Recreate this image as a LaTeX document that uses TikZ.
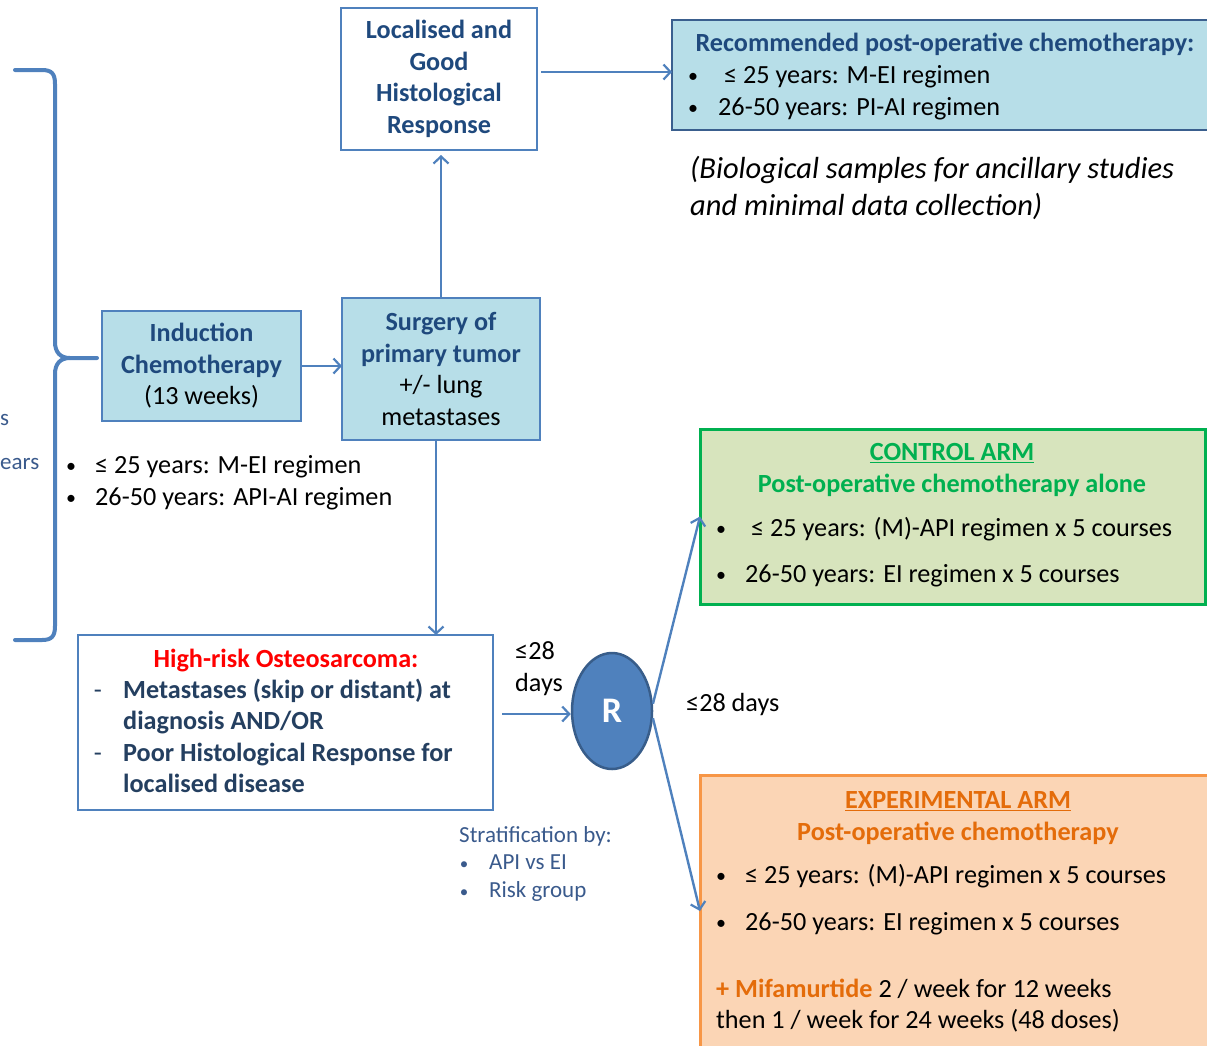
\documentclass[tikz,border=0pt]{standalone}
\usepackage{fontspec}
\setmainfont{Carlito}
\usetikzlibrary{arrows.meta,shapes.geometric,calc}
\definecolor{bline}{HTML}{4F81BD}
\definecolor{rdark}{HTML}{385D8A}
\definecolor{rbord}{HTML}{3A5F8E}
\definecolor{dblue}{HTML}{1F497D}
\definecolor{hblue}{HTML}{243F60}
\definecolor{sblue}{HTML}{3A5A8C}
\definecolor{lblue}{HTML}{B7DEE8}
\definecolor{gfill}{HTML}{D7E4BD}
\definecolor{gline}{HTML}{00B050}
\definecolor{ofill}{HTML}{FBD5B5}
\definecolor{oline}{HTML}{F79646}
\definecolor{otext}{HTML}{E46C0A}
\newcommand\fsz{\fontsize{26.2}{31.5}\selectfont}
\newcommand\fsb{\fontsize{20}{31.5}\selectfont}
\newcommand\fsm{\fontsize{23}{28}\selectfont}
\newcommand\fsl{\fontsize{30.5}{37}\selectfont}
\begin{document}
\begin{tikzpicture}[x=1pt,y=-1pt,
  box/.style={draw=bline, line width=1.8pt, rectangle, inner sep=0pt, outer sep=0pt, anchor=north west},
  arr/.style={draw=bline, line width=2.4pt, -{Straight Barb[length=7pt,width=15pt,line width=2.2pt]}},
  txt/.style={font=\fsz, inner sep=0pt, anchor=base west},
  ctxt/.style={font=\fsz, inner sep=0pt, anchor=base},
  bul/.style={font=\fsb, inner sep=0pt, anchor=base}]
\useasboundingbox (0,0) rectangle (1207,1045);
\clip (0,0) rectangle (1207,1045);

% brace
\draw[bline, line width=4pt, line cap=round, line join=round]
  (15,70) -- (42,70) .. controls (52,70) and (55,74) .. (55,84) -- (55,342)
  .. controls (55,352) and (60,358) .. (70,358) -- (97,358);
\draw[bline, line width=4pt, line cap=round, line join=round]
  (70,358) .. controls (60,358) and (55,364) .. (55,374) -- (55,626)
  .. controls (55,636) and (52,640) .. (42,640) -- (15,640);
\node[txt, font=\fsm, text=sblue] (cuts) at (0,425.5) {s};
\node[txt, font=\fsm, text=sblue] (cutyears) at (0,469.5) {ears};

% boxes
\node[box, fill=white, minimum width=196pt, minimum height=142pt, font=\fsz\bfseries, text=dblue, align=center] (loc) at (341,8) {Localised and\\Good\\Histological\\Response};
\node[box, draw=rbord, fill=lblue, minimum width=545pt, minimum height=110pt] (rec) at (672,20) {};
\node[box, fill=lblue, minimum width=199pt, minimum height=110pt, font=\fsz, align=center] (ind) at (102,311) {\textcolor{dblue}{\bfseries Induction}\\\textcolor{dblue}{\bfseries Chemotherapy}\\(13 weeks)};
\node[box, fill=lblue, minimum width=198pt, minimum height=142pt, font=\fsz, align=center] (sur) at (342,298) {\textcolor{dblue}{\bfseries Surgery of}\\\textcolor{dblue}{\bfseries primary tumor}\\+/- lung\\metastases};
\node[box, fill=white, minimum width=415pt, minimum height=175pt] (hr) at (78,635) {};
\node[box, draw=gline, line width=3pt, fill=gfill, minimum width=505pt, minimum height=175pt] (ctrl) at (700,429) {};
\node[box, draw=oline, line width=3pt, fill=ofill, minimum width=520pt, minimum height=272pt] (exp) at (700,775) {};
\node[ellipse, fill=bline, draw=rdark, line width=2.5pt, minimum width=80pt, minimum height=116pt, inner sep=0pt, text=white, font=\fontsize{36}{36}\selectfont\bfseries] (R) at (612,711) {R};

% recommended box text
\node[ctxt, text=dblue, font=\fsz\bfseries] (rech) at (945,51.5) {Recommended post-operative chemotherapy:};
\node[bul] (recb1) at (693,82.5) {•};
\node[txt] (rect1) at (724,83.5) {≤ 25 years: M-EI regimen};
\node[bul] (recb2) at (693,114.5) {•};
\node[txt] (rect2) at (718,115.5) {26-50 years: PI-AI regimen};
\node[txt, font=\fsl\itshape] (bio1) at (690,178) {(Biological samples for ancillary studies};
\node[txt, font=\fsl\itshape] (bio2) at (690,215) {and minimal data collection)};

% induction bullets
\node[bul] (indb1) at (71,472.5) {•};
\node[txt] (indt1) at (95,473.5) {≤ 25 years: M-EI regimen};
\node[bul] (indb2) at (71,504.5) {•};
\node[txt] (indt2) at (95,505.5) {26-50 years: API-AI regimen};

% high-risk text
\node[ctxt, text=red, font=\fsz\bfseries] (hrh) at (286,667.5) {High-risk Osteosarcoma:};
\node[bul, font=\fsz, text=hblue] (hrd1) at (98,698.5) {-};
\node[txt, text=hblue, font=\fsz\bfseries] (hrt1) at (123,698.5) {Metastases (skip or distant) at};
\node[txt, text=hblue, font=\fsz\bfseries] (hrt2) at (123,729.5) {diagnosis AND/OR};
\node[bul, font=\fsz, text=hblue] (hrd2) at (98,761.5) {-};
\node[txt, text=hblue, font=\fsz\bfseries] (hrt3) at (123,761.5) {Poor Histological Response for};
\node[txt, text=hblue, font=\fsz\bfseries] (hrt4) at (123,792.5) {localised disease};

\node[txt] (d28a) at (515,659.5) {≤28};
\node[txt] (d28b) at (515,691.5) {days};
\node[txt] (d28c) at (686,711.5) {≤28 days};

% stratification
\node[txt, font=\fsm, text=sblue] (strat) at (459,842.5) {Stratification by:};
\node[bul, font=\fontsize{17}{20}\selectfont, text=sblue] (stb1) at (464,869) {•};
\node[txt, font=\fsm, text=sblue] (stt1) at (489,869.5) {API vs EI};
\node[bul, font=\fontsize{17}{20}\selectfont, text=sblue] (stb2) at (464,897) {•};
\node[txt, font=\fsm, text=sblue] (stt2) at (489,897.5) {Risk group};

% control arm
\node[ctxt, text=gline, font=\fsz\bfseries] (cth) at (952,460.5) {\underline{CONTROL ARM}};
\node[ctxt, text=gline, font=\fsz\bfseries] (cts) at (952,492.5) {Post-operative chemotherapy alone};
\node[bul] (ctb1) at (721,535.5) {•};
\node[txt] (ctt1) at (751,536.5) {≤ 25 years: (M)-API regimen x 5 courses};
\node[bul] (ctb2) at (721,581.5) {•};
\node[txt] (ctt2) at (745,582.5) {26-50 years: EI regimen x 5 courses};

% experimental arm
\node[ctxt, text=otext, font=\fsz\bfseries] (exh) at (958,808.5) {\underline{EXPERIMENTAL ARM}};
\node[ctxt, text=otext, font=\fsz\bfseries] (exs) at (958,840.5) {Post-operative chemotherapy};
\node[bul] (exb1) at (721,882.5) {•};
\node[txt] (ext1) at (745,883.5) {≤ 25 years: (M)-API regimen x 5 courses};
\node[bul] (exb2) at (721,929.5) {•};
\node[txt] (ext2) at (745,930.5) {26-50 years: EI regimen x 5 courses};
\node[txt] (ext3) at (716,997.5) {\textcolor{otext}{\bfseries + Mifamurtide} 2 / week for 12 weeks};
\node[txt] (ext4) at (716,1028.5) {then 1 / week for 24 weeks (48 doses)};

% connectors
\draw[arr] ([xshift=4pt,yshift=7pt]loc.east) -- ([yshift=3pt]rec.west);
\draw[arr] (ind.east) -- (ind.east -| sur.west);
\draw[arr] (sur.north) -- ($(sur.north |- loc.south)+(0,5)$);
\draw[arr] ($(sur.south)+(-5,0)$) -- ($(sur.south |- hr.north)+(-5,0)$);
\draw[arr] ($(hr.east |- R.west)+(9,3)$) -- ($(R.west)+(0,3)$);
\draw[arr] (R.10) -- (ctrl.west);
\draw[arr] (R.-10) -- (exp.west);
\end{tikzpicture}
\end{document}
